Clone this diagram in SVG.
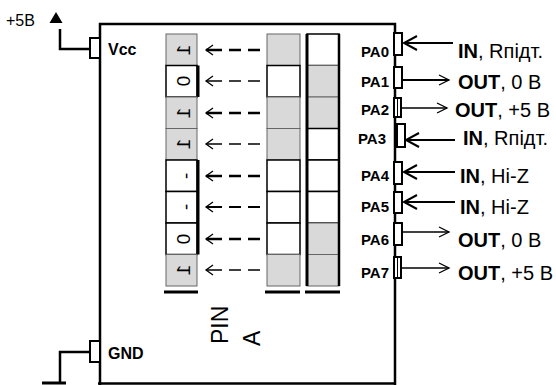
<svg xmlns="http://www.w3.org/2000/svg" width="556" height="385" viewBox="0 0 556 385">
<style>
.t{font-family:"Liberation Sans",Arial,sans-serif;fill:#000}
.b{font-weight:bold}
.cg{fill:#d9d9d9;stroke:#666;stroke-width:1}
.cw{fill:#fff;stroke:#000;stroke-width:1.5}
.w{fill:none;stroke:#000;stroke-width:2.5}
.pin{fill:#fff;stroke:#000;stroke-width:2}
.da{fill:none;stroke:#000;stroke-dasharray:12 7 12 7 20}
.ah{fill:none;stroke:#000;stroke-width:1.3}
.ar{fill:none;stroke:#000;stroke-width:2}
.dig{font-family:"Liberation Sans",Arial,sans-serif;font-size:19px;text-anchor:middle}
.pl{font-family:"Liberation Sans",Arial,sans-serif;font-size:15px;font-weight:bold;text-anchor:end}
.rl{font-family:"Liberation Sans",Arial,sans-serif;font-size:20px}
</style>
<g id="chip">
<path d="M100,385 V24 H395 V385" fill="none" stroke="#000" stroke-width="2.5"/>
<line x1="98" y1="383.5" x2="396" y2="383.5" stroke="#000" stroke-width="2.5"/>
</g>
<g id="vcc">
<text class="t" x="6" y="26" font-size="16">+5В</text>
<polygon points="56,12 49.5,23 62.5,23" fill="#000"/>
<path class="w" d="M60,29 V49 H90"/>
<rect class="pin" x="90" y="38" width="10" height="20"/>
<text class="t b" x="108" y="55" font-size="16">Vcc</text>
</g>
<g id="gnd">
<path class="w" d="M90,352 H60 V383"/>
<line x1="42" y1="383" x2="66" y2="383" stroke="#000" stroke-width="3"/>
<rect class="pin" x="90" y="341" width="10" height="21"/>
<text class="t b" x="108" y="359" font-size="16">GND</text>
</g>
<g id="pin-reg">
<rect class="cg" x="166" y="34" width="31" height="31.5"/>
<rect class="cw" x="166" y="65.5" width="31" height="31.5"/>
<line x1="198" y1="65.5" x2="198" y2="97" stroke="#000" stroke-width="3"/>
<rect class="cg" x="166" y="97" width="31" height="31.5"/>
<rect class="cg" x="166" y="128.5" width="31" height="31.5"/>
<rect class="cw" x="166" y="160" width="31" height="31.5"/>
<rect class="cw" x="166" y="191.5" width="31" height="31.5"/>
<rect class="cw" x="166" y="223" width="31" height="31.5"/>
<line x1="198" y1="160" x2="198" y2="254.5" stroke="#000" stroke-width="3"/>
<rect class="cg" x="166" y="254.5" width="31" height="31.5"/>
<line x1="164" y1="292" x2="198" y2="292" stroke="#000" stroke-width="3"/>
<text class="dig" transform="matrix(0,1,1,0,190,50)">1</text>
<text class="dig" transform="matrix(0,1,1,0,190,81)">0</text>
<text class="dig" transform="matrix(0,1,1,0,190,113)">1</text>
<text class="dig" transform="matrix(0,1,1,0,190,144)">1</text>
<text class="dig" transform="matrix(0,1,1,0,192,176)">-</text>
<text class="dig" transform="matrix(0,1,1,0,192,207)">-</text>
<text class="dig" transform="matrix(0,1,1,0,190,239)">0</text>
<text class="dig" transform="matrix(0,1,1,0,190,270)">1</text>
</g>
<g id="port-reg">
<rect class="cg" x="267" y="34" width="33" height="31.5"/>
<rect class="cw" x="267" y="65.5" width="33" height="31.5"/>
<rect class="cg" x="267" y="97" width="33" height="31.5"/>
<rect class="cg" x="267" y="128.5" width="33" height="31.5"/>
<rect class="cw" x="267" y="160" width="33" height="31.5"/>
<rect class="cw" x="267" y="191.5" width="33" height="31.5"/>
<rect class="cw" x="267" y="223" width="33" height="31.5"/>
<rect class="cg" x="267" y="254.5" width="33" height="31.5"/>
<line x1="265" y1="292" x2="300" y2="292" stroke="#000" stroke-width="3"/>
</g>
<g id="ddr-reg">
<rect class="cw" x="307" y="34" width="32" height="31.5"/>
<rect class="cg" x="307" y="65.5" width="32" height="31.5"/>
<rect class="cg" x="307" y="97" width="32" height="31.5"/>
<rect class="cw" x="307" y="128.5" width="32" height="31.5"/>
<rect class="cw" x="307" y="160" width="32" height="31.5"/>
<rect class="cw" x="307" y="191.5" width="32" height="31.5"/>
<rect class="cg" x="307" y="223" width="32" height="31.5"/>
<rect class="cg" x="307" y="254.5" width="32" height="31.5"/>
<line x1="307" y1="34" x2="307" y2="286" stroke="#000" stroke-width="3"/>
<line x1="339" y1="34" x2="339" y2="286" stroke="#000" stroke-width="2.5"/>
<line x1="305" y1="292" x2="340" y2="292" stroke="#000" stroke-width="3"/>
</g>
<g id="pina-label">
<text class="t" font-size="23" transform="translate(228,344) rotate(-90)">PIN</text>
<text class="t" font-size="23" transform="translate(260,346) rotate(-90)">A</text>
</g>
<g id="connectors">
<line class="da" x1="260" y1="50" x2="206" y2="50" stroke-width="2.5"/>
<polyline class="ah" points="213,45 206,50 213,55"/>
<line class="da" x1="260" y1="81" x2="206" y2="81" stroke-width="1.3"/>
<polyline class="ah" points="213,76 206,81 213,86"/>
<line class="da" x1="260" y1="113" x2="206" y2="113" stroke-width="2.5"/>
<polyline class="ah" points="213,108 206,113 213,118"/>
<line class="da" x1="260" y1="144" x2="206" y2="144" stroke-width="1.3"/>
<polyline class="ah" points="213,139 206,144 213,149"/>
<line class="da" x1="260" y1="176" x2="206" y2="176" stroke-width="2.5"/>
<polyline class="ah" points="213,171 206,176 213,181"/>
<line class="da" x1="260" y1="207" x2="206" y2="207" stroke-width="2"/>
<polyline class="ah" points="213,202 206,207 213,212"/>
<line class="da" x1="260" y1="239" x2="206" y2="239" stroke-width="2.5"/>
<polyline class="ah" points="213,234 206,239 213,244"/>
<line class="da" x1="260" y1="270" x2="206" y2="270" stroke-width="1.3"/>
<polyline class="ah" points="213,265 206,270 213,275"/>
<line class="ar" x1="404" y1="43" x2="453" y2="43"/>
<polyline class="ar" points="417,36 404,43 417,50"/>
<line class="ar" x1="402" y1="80" x2="449" y2="80"/>
<polyline class="ah" points="439,75 449,80 439,85"/>
<line class="ah" x1="401" y1="108" x2="447" y2="108" stroke-width="1.6"/>
<polyline class="ah" points="437,103 447,108 437,113"/>
<line class="ar" x1="406" y1="140" x2="455" y2="140"/>
<polyline class="ar" points="419,133 406,140 419,147"/>
<line class="ar" x1="404" y1="172" x2="455" y2="172"/>
<polyline class="ar" points="417,165 404,172 417,179"/>
<line class="ar" x1="404" y1="202" x2="455" y2="202"/>
<polyline class="ar" points="417,195 404,202 417,209"/>
<line class="ah" x1="402" y1="232" x2="449" y2="232" stroke-width="1.6"/>
<polyline class="ah" points="439,227 449,232 439,237"/>
<line class="ah" x1="401" y1="268" x2="449" y2="268" stroke-width="1.6"/>
<polyline class="ah" points="439,263 449,268 439,273"/>
</g>
<g id="pa0"><rect class="pin" x="394" y="33" width="8" height="22"/><text class="pl" x="389" y="57">PA0</text><text class="rl" x="458" y="58"><tspan class="b">IN</tspan>, Rпідт.</text></g>
<g id="pa1"><rect class="pin" x="394" y="67" width="8" height="21"/><text class="pl" x="389" y="87">PA1</text><text class="rl" x="458" y="89"><tspan class="b">OUT</tspan>, 0 В</text></g>
<g id="pa2"><rect class="pin" x="394" y="98" width="7" height="19" stroke-width="1.5"/><line x1="397.5" y1="98" x2="397.5" y2="117" stroke="#000" stroke-width="1"/><text class="pl" x="389" y="115">PA2</text><text class="rl" x="455" y="117"><tspan class="b">OUT</tspan>, +5 В</text></g>
<g id="pa3"><rect class="pin" x="397" y="124" width="8" height="23" stroke-width="1.3"/><text class="pl" x="386" y="144">PA3</text><text class="rl" x="463" y="145"><tspan class="b">IN</tspan>, Rпідт.</text></g>
<g id="pa4"><rect class="pin" x="394" y="162" width="8" height="22"/><text class="pl" x="389" y="181">PA4</text><text class="rl" x="460" y="183"><tspan class="b">IN</tspan>, Hi-Z</text></g>
<g id="pa5"><rect class="pin" x="394" y="192" width="8" height="21"/><text class="pl" x="389" y="212">PA5</text><text class="rl" x="460" y="214"><tspan class="b">IN</tspan>, Hi-Z</text></g>
<g id="pa6"><rect class="pin" x="394" y="223" width="8" height="22"/><text class="pl" x="389" y="245">PA6</text><text class="rl" x="458" y="247"><tspan class="b">OUT</tspan>, 0 В</text></g>
<g id="pa7"><rect class="pin" x="394" y="257" width="7" height="21" stroke-width="1.5"/><line x1="397.5" y1="257" x2="397.5" y2="278" stroke="#000" stroke-width="1"/><text class="pl" x="389" y="278">PA7</text><text class="rl" x="458" y="280"><tspan class="b">OUT</tspan>, +5 В</text></g>
</svg>
